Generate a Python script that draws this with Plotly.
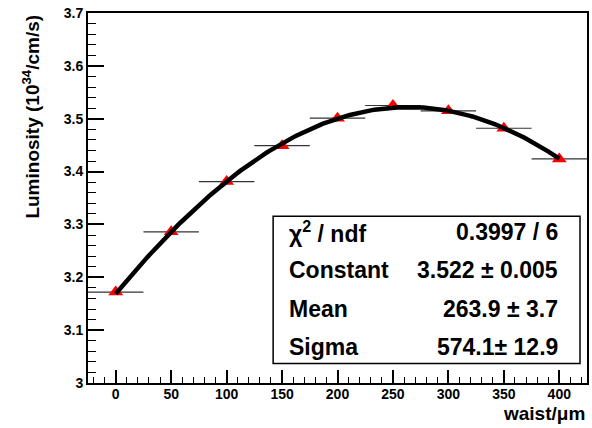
import numpy as np
import plotly.graph_objects as go

# data
waist = [0, 50, 100, 150, 200, 250, 300, 350, 400]
lumi = [3.172, 3.286, 3.381, 3.449, 3.501, 3.525, 3.515, 3.482, 3.424]
bin_half = [25] * 9

# fit parameters (Gaussian) as reported in the stats box
fit_const, fit_mean, fit_sigma = 3.522, 263.9, 574.1
stats_labels = ["χ<sup>2</sup> / ndf", "Constant", "Mean", "Sigma"]
stats_values = ["0.3997 / 6", "3.522 ± 0.005", "263.9 ± 3.7", "574.1± 12.9"]

xf = np.linspace(min(waist), max(waist), 200)
yf = fit_const * np.exp(-0.5 * ((xf - fit_mean) / fit_sigma) ** 2)

FONT = "Liberation Sans"

fig = go.Figure()
fig.add_trace(go.Scatter(
    x=waist, y=lumi, mode="markers",
    marker=dict(symbol="triangle-up", size=13, color="#ff0000", line=dict(width=0)),
    error_x=dict(type="data", array=bin_half, symmetric=True, width=0,
                 color="#333333", thickness=1.2),
    showlegend=False, hoverinfo="x+y",
))
fig.add_trace(go.Scatter(
    x=xf, y=yf, mode="lines", line=dict(color="black", width=4.5),
    showlegend=False, hoverinfo="skip",
))

axis_common = dict(
    showgrid=False, zeroline=False, showline=True, linecolor="black",
    linewidth=2, mirror=True, ticks="inside", tickcolor="black",
    tickwidth=1.5,
    tickfont=dict(family=FONT, size=14, color="black", weight="bold"),
)
fig.update_xaxes(range=[-25, 425], tickvals=list(range(0, 401, 50)),
                 ticklen=13, ticklabelstandoff=-3,
                 minor=dict(ticks="inside", dtick=10, tick0=0, ticklen=6,
                            tickwidth=1.2, tickcolor="black"),
                 **axis_common)
fig.update_yaxes(range=[3, 3.7], tickvals=[3, 3.1, 3.2, 3.3, 3.4, 3.5, 3.6, 3.7],
                 ticktext=["3", "3.1", "3.2", "3.3", "3.4", "3.5", "3.6", "3.7"],
                 ticklen=16,
                 minor=dict(ticks="inside", dtick=0.02, tick0=3, ticklen=8,
                            tickwidth=1.2, tickcolor="black"),
                 **axis_common)

# stats box
fig.add_shape(type="rect", xref="paper", yref="paper",
              x0=0.371, x1=0.986, y0=0.053, y1=0.451,
              line=dict(color="black", width=1.5), fillcolor="white", layer="above")
row_y = [0.407, 0.305, 0.201, 0.097]
for lab, val, yy in zip(stats_labels, stats_values, row_y):
    fig.add_annotation(x=0.399, y=yy, xref="paper", yref="paper", text=lab,
                       showarrow=False, xanchor="left", yanchor="middle",
                       font=dict(family=FONT, size=23, color="black", weight="bold"))
    fig.add_annotation(x=0.946, y=yy, xref="paper", yref="paper", text=val,
                       showarrow=False, xanchor="right", yanchor="middle",
                       font=dict(family=FONT, size=23, color="black", weight="bold"))

# axis titles
fig.add_annotation(xref="paper", yref="paper", x=-0.115, y=1.0,
                   text="Luminosity (10<sup>34</sup>/cm/s)", textangle=-90,
                   showarrow=False, xanchor="center", yanchor="top",
                   font=dict(family=FONT, size=19, color="black", weight="bold"))
fig.add_annotation(xref="paper", yref="paper", x=1.0, y=-0.117,
                   text="waist/μm", showarrow=False, xanchor="right", yanchor="bottom",
                   font=dict(family=FONT, size=19, color="black", weight="bold"))

fig.update_layout(
    width=592, height=428,
    margin=dict(l=88, r=3, t=13, b=45),
    plot_bgcolor="white", paper_bgcolor="white",
)
fig.write_html("out.html")
